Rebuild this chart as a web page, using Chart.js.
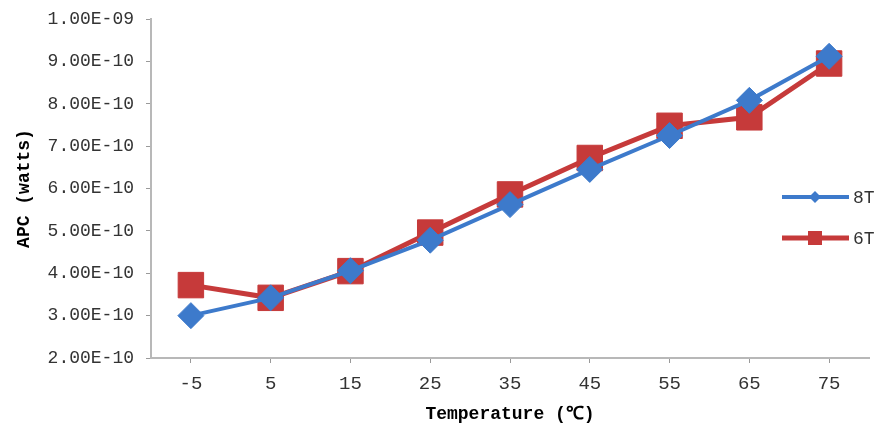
<!DOCTYPE html>
<html>
<head>
<meta charset="utf-8">
<script src="https://cdn.jsdelivr.net/npm/chart.js@4/dist/chart.umd.min.js"></script>
<style>
html,body{margin:0;padding:0;background:#fff;overflow:hidden;}
#wrap{position:absolute;left:0;top:0;width:888px;height:431px;}
</style>
</head>
<body>
<div id="wrap"><canvas id="c" width="888" height="431"></canvas></div>
<script>
const categories = ['-5','5','15','25','35','45','55','65','75'];
const series8T = [3.00e-10, 3.42e-10, 4.06e-10, 4.78e-10, 5.62e-10, 6.45e-10, 7.25e-10, 8.08e-10, 9.12e-10];
const series6T = [3.72e-10, 3.42e-10, 4.05e-10, 4.96e-10, 5.86e-10, 6.72e-10, 7.48e-10, 7.68e-10, 8.95e-10];
const seriesNames = ['8T', '6T'];
const yTickLabels = ['2.00E-10','3.00E-10','4.00E-10','5.00E-10','6.00E-10','7.00E-10','8.00E-10','9.00E-10','1.00E-09'];
const xTitle = 'Temperature (℃)';
const yTitle = 'APC (watts)';

const BLUE = '#3D7ACB';
const RED = '#C63A3A';
const MONO = "'Liberation Mono', 'DejaVu Sans Mono', monospace";

const legendPlugin = {
  id: 'insideLegend',
  afterDraw(chart) {
    const ctx = chart.ctx;
    const items = [
      {name: seriesNames[0], color: BLUE, y: 197, style: 'diamond', lw: 4},
      {name: seriesNames[1], color: RED, y: 238, style: 'square', lw: 5}
    ];
    ctx.save();
    items.forEach(it => {
      ctx.strokeStyle = it.color;
      ctx.lineWidth = it.lw;
      ctx.beginPath();
      ctx.moveTo(782, it.y);
      ctx.lineTo(849, it.y);
      ctx.stroke();
      ctx.fillStyle = it.color;
      ctx.beginPath();
      if (it.style === 'diamond') {
        ctx.moveTo(815, it.y - 6); ctx.lineTo(821, it.y); ctx.lineTo(815, it.y + 6); ctx.lineTo(809, it.y);
      } else {
        ctx.rect(808, it.y - 7, 14, 14);
      }
      ctx.closePath();
      ctx.fill();
      ctx.fillStyle = '#333';
      ctx.font = "18px " + MONO;
      ctx.textBaseline = 'middle';
      ctx.textAlign = 'left';
      ctx.fillText(it.name, 853, it.y + 1);
    });
    ctx.restore();
  }
};

new Chart(document.getElementById('c'), {
  type: 'line',
  data: {
    labels: categories,
    datasets: [
      {
        label: seriesNames[0],
        data: series8T,
        borderColor: BLUE,
        backgroundColor: BLUE,
        borderWidth: 4,
        pointStyle: 'rectRot',
        pointRadius: 13,
        pointBorderWidth: 1,
        pointBorderColor: BLUE,
        pointBackgroundColor: BLUE,
        tension: 0
      },
      {
        label: seriesNames[1],
        data: series6T,
        borderColor: RED,
        backgroundColor: RED,
        borderWidth: 5,
        pointStyle: 'rect',
        pointRadius: 18,
        pointBorderWidth: 1,
        pointBorderColor: RED,
        pointBackgroundColor: RED,
        tension: 0
      }
    ]
  },
  options: {
    responsive: false,
    animation: false,
    devicePixelRatio: 1,
    events: [],
    layout: {padding: {top: 18, left: 0, right: 0, bottom: 0}},
    plugins: {legend: {display: false}, tooltip: {enabled: false}},
    scales: {
      x: {
        type: 'category',
        offset: true,
        grid: {display: true, drawOnChartArea: false, drawTicks: true, tickLength: 5, color: '#9a9a9a', offset: false},
        border: {display: true, color: '#b8b8b8', width: 2, dash: [1, 1]},
        ticks: {color: '#333', font: {family: MONO, size: 19}, padding: 10, maxRotation: 0, autoSkip: false},
        title: {display: true, text: xTitle, color: '#000', font: {family: MONO, size: 18, weight: 'bold'}, padding: {top: 0, bottom: 6}},
        afterFit(scale) { scale.height = 73; scale.paddingLeft = 0; scale.paddingRight = 0; }
      },
      y: {
        min: 2e-10,
        max: 1e-9,
        grid: {display: true, drawOnChartArea: false, drawTicks: true, tickLength: 5, color: '#9a9a9a'},
        border: {display: true, color: '#b8b8b8', width: 2, dash: [1, 1]},
        ticks: {
          stepSize: 1e-10,
          color: '#333',
          font: {family: MONO, size: 18},
          padding: 12,
          callback: (v, i) => yTickLabels[i]
        },
        title: {display: true, text: yTitle, color: '#000', font: {family: MONO, size: 18, weight: 'bold'}, padding: {top: 14, bottom: 0}},
        afterFit(scale) { scale.width = 151; scale.paddingTop = 0; scale.paddingBottom = 0; }
      }
    }
  },
  plugins: [legendPlugin]
});
</script>
</body>
</html>
